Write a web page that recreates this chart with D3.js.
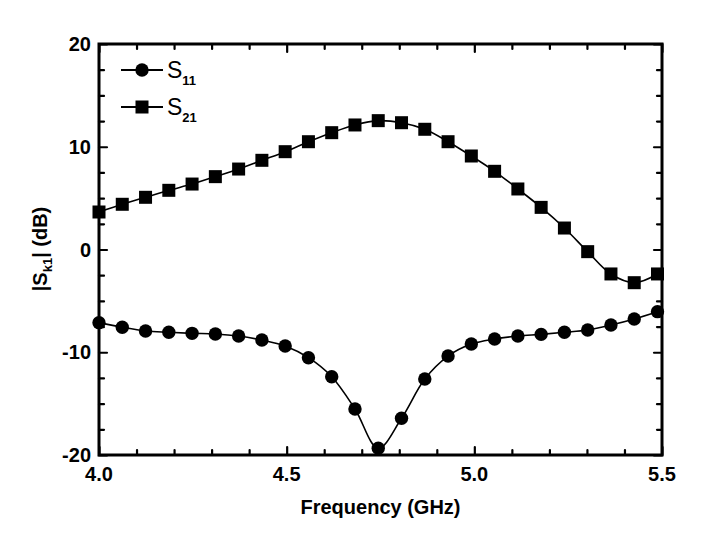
<!DOCTYPE html>
<html><head><meta charset="utf-8">
<script src="https://cdn.jsdelivr.net/npm/d3@7"></script>
<style>body{margin:0;background:#fff}svg{display:block}text{font-family:"Liberation Sans",Arial,sans-serif}</style>
</head><body><svg id="c" width="718" height="539"></svg>
<script>
const freq = [4.000,4.062,4.124,4.186,4.248,4.310,4.372,4.434,4.496,4.558,4.620,4.682,4.744,4.806,4.868,4.930,4.992,5.054,5.116,5.178,5.240,5.302,5.364,5.426,5.488];
const s11 = [-7.12,-7.57,-7.93,-8.06,-8.16,-8.22,-8.42,-8.81,-9.39,-10.53,-12.38,-15.52,-19.35,-16.43,-12.6,-10.37,-9.2,-8.71,-8.42,-8.26,-8.06,-7.83,-7.35,-6.76,-6.05];
const s21 = [3.65,4.4,5.08,5.76,6.37,7.09,7.83,8.68,9.52,10.49,11.37,12.12,12.54,12.34,11.7,10.49,9.1,7.61,5.89,4.1,2.09,-0.21,-2.38,-3.23,-2.38];
const xMajor = [4.0,4.5,5.0,5.5];
const xLabels = ["4.0","4.5","5.0","5.5"];
const yMajor = [-20,-10,0,10,20];
const xTitle = "Frequency (GHz)";

const svg = d3.select("#c");
const L=99,R=662,T=44,B=455;
const x = d3.scaleLinear().domain([4.0,5.5]).range([L,R]);
const y = d3.scaleLinear().domain([-20,20]).range([B,T]);

const xMinor = d3.range(4.0,5.5001,0.1).filter(v=>!xMajor.some(m=>Math.abs(m-v)<1e-6));
const yMinor = d3.range(-20,20.001,2.5).filter(v=>!yMajor.some(m=>Math.abs(m-v)<1e-6));

function axis(gen, scale, vals, size, tr){
  const g = svg.append("g").attr("transform",tr)
    .call(gen(scale).tickValues(vals).tickSizeInner(-size).tickSizeOuter(0).tickFormat(""));
  g.select(".domain").remove();
  g.selectAll("line").attr("stroke","#000").attr("stroke-width",2.2).attr("stroke-linecap","round");
  return g;
}
axis(d3.axisBottom,x,xMajor,8,`translate(0,${B})`);
axis(d3.axisBottom,x,xMinor,5,`translate(0,${B})`);
axis(d3.axisTop,x,xMajor,8,`translate(0,${T})`);
axis(d3.axisTop,x,xMinor,5,`translate(0,${T})`);
axis(d3.axisLeft,y,yMajor,8,`translate(${L},0)`);
axis(d3.axisLeft,y,yMinor,5,`translate(${L},0)`);
axis(d3.axisRight,y,yMajor,8,`translate(${R},0)`);
axis(d3.axisRight,y,yMinor,5,`translate(${R},0)`);

svg.append("rect").attr("x",L).attr("y",T).attr("width",R-L).attr("height",B-T)
  .attr("fill","none").attr("stroke","#000").attr("stroke-width",3);

// tick labels
svg.append("g").selectAll("text").data(xMajor).join("text")
  .attr("x",d=>x(d)).attr("y",481).attr("text-anchor","middle")
  .attr("font-size",20).attr("font-weight","bold").text((d,i)=>xLabels[i]);
svg.append("g").selectAll("text").data(yMajor).join("text")
  .attr("x",91).attr("y",d=>y(d)+7).attr("text-anchor","end")
  .attr("font-size",20).attr("font-weight","bold").text(d=>d);

// axis titles
svg.append("text").attr("x",(L+R)/2).attr("y",514).attr("text-anchor","middle")
  .attr("font-size",20).attr("font-weight","bold").text(xTitle);
const yt = svg.append("text").attr("transform","translate(47,249) rotate(-90)")
  .attr("text-anchor","middle").attr("font-size",20).attr("font-weight","bold");
yt.append("tspan").text("|S");
yt.append("tspan").attr("font-size",13).attr("dy",5).text("k1");
yt.append("tspan").attr("dy",-5).text("| (dB)");

// lines
const line = d3.line().x((d,i)=>x(freq[i])).y(d=>y(d)).curve(d3.curveCatmullRom.alpha(0.5));
[s11,s21].forEach(s=>svg.append("path").datum(s).attr("d",line)
  .attr("fill","none").attr("stroke","#000").attr("stroke-width",1.6));
svg.append("g").selectAll("circle").data(s11).join("circle")
  .attr("cx",(d,i)=>x(freq[i])).attr("cy",d=>y(d)).attr("r",6.7).attr("fill","#000");
svg.append("g").selectAll("rect").data(s21).join("rect")
  .attr("x",(d,i)=>x(freq[i])-6.5).attr("y",d=>y(d)-6.5).attr("width",13).attr("height",13).attr("fill","#000");

// legend
const leg = svg.append("g");
[[70,"circle","11"],[107,"square","21"]].forEach(([ly,sh,sub])=>{
  leg.append("line").attr("x1",121).attr("x2",163).attr("y1",ly).attr("y2",ly).attr("stroke","#000").attr("stroke-width",2);
  if(sh==="circle") leg.append("circle").attr("cx",142).attr("cy",ly).attr("r",6.7).attr("fill","#000");
  else leg.append("rect").attr("x",135.5).attr("y",ly-6.5).attr("width",13).attr("height",13).attr("fill","#000");
  const t = leg.append("text").attr("x",167).attr("y",ly+8).attr("font-size",23);
  t.append("tspan").text("S");
  t.append("tspan").attr("font-size",13).attr("font-weight","bold").attr("dy",7).text(sub);
});
</script></body></html>
